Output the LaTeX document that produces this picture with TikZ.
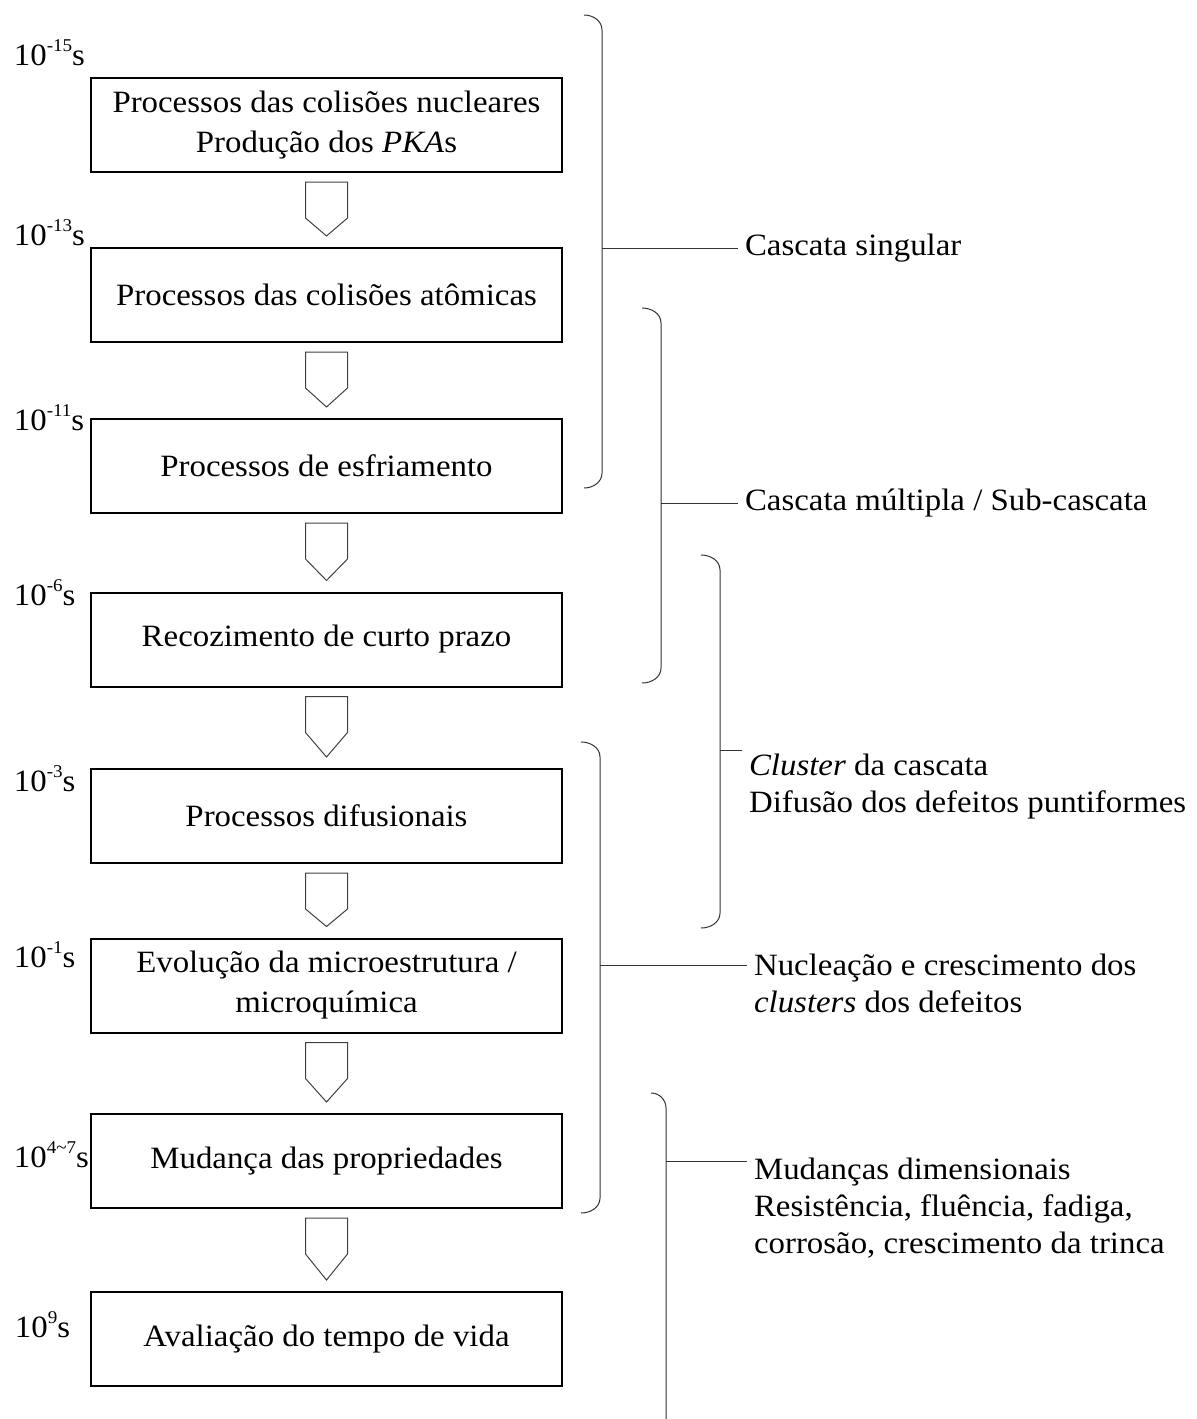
\documentclass[tikz,border=0pt]{standalone}
\usepackage{fontspec}
\setmainfont{Liberation Serif}[FakeStretch=1.06]
\newcommand{\tsup}[1]{\raisebox{7pt}{\fontsize{9}{9}\selectfont #1}}

\begin{document}
\begin{tikzpicture}[x=5pt,y=-5pt]
\tikzstyle{every node}=[font=\fontsize{15.5}{20}\selectfont]
\tikzstyle{stage}=[draw,line width=1pt,minimum width=235.5pt,minimum height=47pt,align=center,inner sep=2pt]
\tikzstyle{timelbl}=[anchor=base west,inner sep=0pt]
\tikzstyle{hollow}=[line width=0.5pt,black!75]
\tikzstyle{bracket}=[line width=0.5pt,black!80]
\tikzstyle{note}=[anchor=base west,align=left,font=\fontsize{15.5}{18.5}\selectfont]
\useasboundingbox (0,0) rectangle (119.7,141.9);

\node[stage] (b1) at (32.65,12.5) {Processos das colisões nucleares\\Produção dos \textit{PKA}s};
\node[stage] (b2) at (32.65,29.5) {Processos das colisões atômicas};
\node[stage] (b3) at (32.65,46.6) {Processos de esfriamento};
\node[stage] (b4) at (32.65,63.95) {Recozimento de curto prazo};
\node[stage] (b5) at (32.65,81.6) {Processos difusionais};
\node[stage] (b6) at (32.65,98.55) {Evolução da microestrutura /\\microquímica};
\node[stage] (b7) at (32.65,116.1) {Mudança das propriedades};
\node[stage] (b8) at (32.65,133.9) {Avaliação do tempo de vida};

\node[timelbl] (t1) at (1.35,6.5) {10\tsup{-15}s};
\node[timelbl] (t2) at (1.35,24.5) {10\tsup{-13}s};
\node[timelbl] (t3) at (1.35,43.0) {10\tsup{-11}s};
\node[timelbl] (t4) at (1.35,60.5) {10\tsup{-6}s};
\node[timelbl] (t5) at (1.35,79.1) {10\tsup{-3}s};
\node[timelbl] (t6) at (1.35,96.7) {10\tsup{-1}s};
\node[timelbl] (t7) at (1.35,116.7) {10\tsup{4\textasciitilde7}s};
\node[timelbl] (t8) at (1.45,133.7) {10\tsup{9}s};

\foreach \a/\b in {b1/b2,b2/b3,b3/b4,b4/b5,b5/b6,b6/b7,b7/b8}
  \draw[hollow] ([shift={(-10.5pt,-4.5pt)}]\a.south) -- ++(0pt,-18pt) -- ([yshift=5.5pt]\b.north)
    -- ([shift={(10.5pt,-22.5pt)}]\a.south) -- ++(0pt,18pt) -- cycle;

\node[note] (sA) at (73.8,25.5) {Cascata singular};
\node[note] (sB) at (73.8,51.0) {Cascata múltipla / Sub-cascata};
\node[note] (sC) at (74.2,81.2) {\textit{Cluster} da cascata\\Difusão dos defeitos puntiformes};
\node[note] (sD) at (74.7,101.2) {Nucleação e crescimento dos\\\textit{clusters} dos defeitos};
\node[note] (sE) at (74.7,125.3) {Mudanças dimensionais\\Resistência, fluência, fadiga,\\corrosão, crescimento da trinca};

\coordinate (kA) at (60.2,24.8);
\coordinate (kB) at (66.1,50.3);
\coordinate (kC) at (72.0,75.0);
\coordinate (kD) at (60.0,96.5);
\coordinate (kE) at (66.6,116.1);

\draw[bracket] (58.4,1.5) to[out=0,in=90] (60.2,3.0) -- (kA) -- (60.2,47.3) to[out=-90,in=0] (58.4,48.8);
\draw[bracket] (64.2,30.8) to[out=0,in=90] (66.1,32.3) -- (kB) -- (66.1,66.8) to[out=-90,in=0] (64.2,68.3);
\draw[bracket] (70.1,55.5) to[out=0,in=90] (72.0,57.0) -- (kC) -- (72.0,91.3) to[out=-90,in=0] (70.1,92.8);
\draw[bracket] (58.1,74.2) to[out=0,in=90] (60.0,75.7) -- (kD) -- (60.0,119.8) to[out=-90,in=0] (58.1,121.3);
\draw[bracket] (65.1,109.3) to[out=0,in=90] (66.6,110.8) -- (kE) -- (66.6,141.9);

\draw[bracket] (kA) -- (kA -| sA.west);
\draw[bracket] (kB) -- (kB -| sB.west);
\draw[bracket] (kC) -- (kC -| sC.west);
\draw[bracket] (kD) -- (kD -| sD.west);
\draw[bracket] (kE) -- (kE -| sE.west);
\end{tikzpicture}
\end{document}
